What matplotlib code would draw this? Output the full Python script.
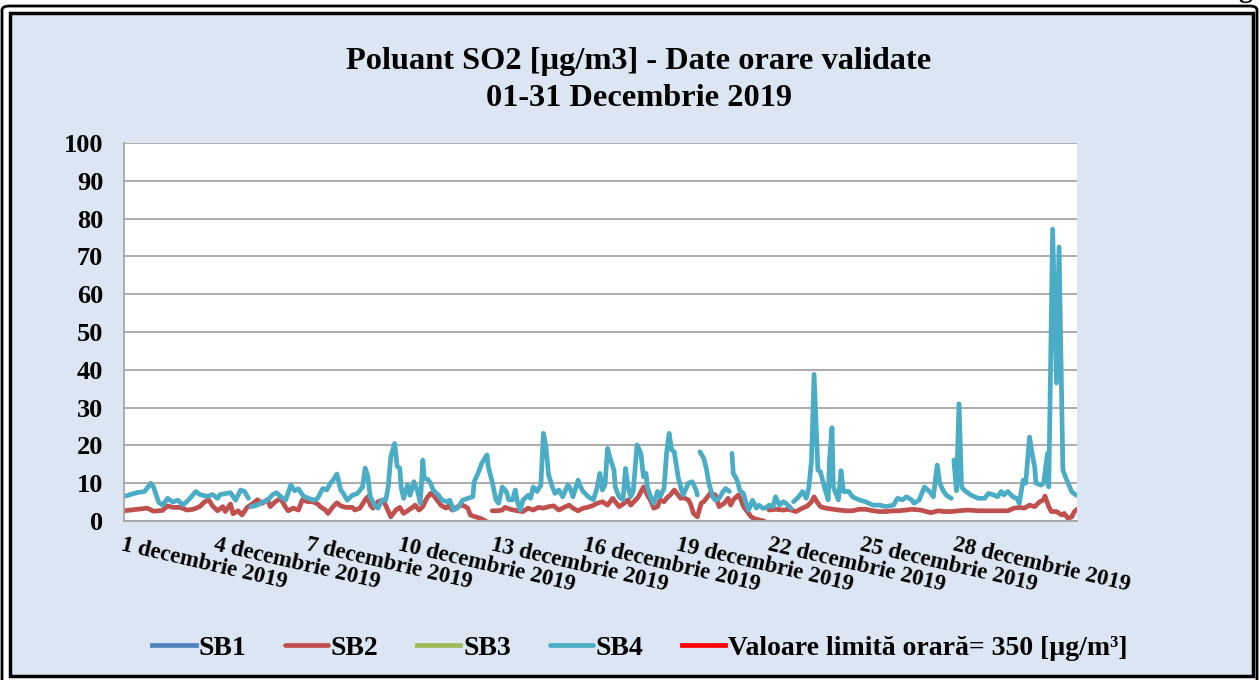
import numpy as np
import matplotlib
matplotlib.use('Agg')
import matplotlib.pyplot as plt
from matplotlib.patches import Rectangle, FancyBboxPatch

nan = np.nan

# ore de la 1 decembrie 00:00 (0 ... 743)
sb4_ore = [0, 5, 10, 16, 21, 23, 27, 30, 34, 38, 42, 46, 50, 56, 59, 65, 69, 73, 75, 83,
           87, 91, 94, 97, 98, 99, 104, 108, 112, 116, 119, 122, 126, 128, 130, 133, 136, 140, 144, 148,
           151, 155, 158, 161, 163, 166, 169, 171, 174, 178, 182, 186, 188, 190, 192, 196, 198, 201, 204, 206,
           208, 211, 213, 215, 216, 218, 221, 223, 226, 229, 231, 233, 234, 237, 239, 241, 245, 248, 252, 254,
           257, 260, 264, 268, 272, 273, 276, 279, 283, 284, 287, 290, 292, 295, 298, 300, 303, 305, 307, 309,
           311, 315, 317, 319, 322, 325, 327, 329, 331, 334, 336, 339, 342, 346, 348, 350, 354, 356, 358, 362,
           366, 369, 371, 373, 375, 377, 379, 382, 383, 386, 389, 391, 393, 395, 397, 400, 403, 405, 407, 408,
           411, 413, 416, 418, 421, 423, 425, 427, 429, 432, 434, 436, 440, 443, 446, 447, 448, 449, 452, 454,
           456, 459, 461, 464, 467, 469, 472, 473, 474, 475, 478, 480, 483, 485, 487, 490, 493, 495, 498, 500,
           503, 506, 508, 511, 514, 516, 520, 521, 522, 526, 529, 532, 534, 536, 538, 541, 543, 546, 549, 550,
           552, 553, 557, 559, 561, 565, 568, 573, 578, 584, 589, 594, 600, 603, 607, 610, 614, 616, 620, 624,
           628, 631, 634, 636, 639, 641, 643, 645, 646, 647, 649, 651, 653, 655, 660, 666, 671, 674, 678, 681,
           684, 686, 689, 693, 696, 698, 701, 703, 706, 708, 710, 711, 715, 717, 720, 721, 724, 727, 729, 732,
           735, 739, 742, 743]
sb4 = [6.5, 7, 7.5, 7.8, 10, 9, 5, 4.2, 6, 5, 5.5, 4.2, 5.5, 7.8, 7, 6.5, 7, 6, 7, 7.5,
       5.5, 8.2, 7.8, 6, nan, 3.8, 4.2, 5, 5.5, 7, 7.5, 6.5, 5.5, 7.5, 9.5, 8, 8.5, 6.5, 6, 5.5,
       6, 8.6, 8.2, 10, 10.8, 12.4, 8.2, 7.3, 5.5, 6.8, 7.3, 9, 14, 12, 6.4, 3.8, 3.4, 5.5, 5.5, 9,
       17, 20.5, 14.4, 14, 9, 6, 9.5, 6.8, 10.4, 7.8, 4.7, 16.1, 11.3, 11, 10, 8.2, 6.9, 5.5, 5.1, 5.5,
       2.9, 3.4, 5.5, 6, 6.4, 10.4, 12.6, 15.3, 17.5, 14.4, 10.4, 5.6, 4.7, 9, 7.8, 5.6, 5.6, 8.2, 4.7, 2.9,
       5.5, 6.8, 6, 9, 7.8, 9.5, 23.2, 19.6, 12.2, 9, 7.3, 8.2, 6.4, 9.5, 8.6, 6.4, 10.8, 9, 7.8, 6.4,
       5.6, 9, 12.6, 8.2, 9.5, 19.2, 16.6, 13.5, 9, 6.4, 5.6, 13.9, 9, 6.4, 7.8, 20.1, 17.9, 11.7, 12.6, 9,
       6, 4.7, 7.8, 6.4, 8.6, 17.9, 23.2, 18.8, 18.3, 11.7, 9, 6.9, 10, 10.4, 8.2, 6.9, nan, 18.3, 16.6, 13.9,
       10, 6.4, 5.5, 6, 7.8, 8.6, 7.8, nan, 17.9, 12.6, 10.8, 8.2, 7.3, 4.7, 2.9, 5.5, 3.4, 4.2, 3.4, 3.4,
       4.2, 3.8, 6.4, 4.2, 5.1, 4.7, 3.4, nan, 5.1, 6.4, 7.8, 6, 9, 16, 38.8, 13.5, 13, 9, 5.6, 16,
       24.7, 9, 5.6, 13.3, 7.8, 7.8, 6.4, 5.6, 5.1, 4.2, 4.2, 3.8, 4.2, 6, 5.6, 6.4, 5.6, 4.7, 5.6, 9,
       7.8, 6.4, 14.8, 10, 7.8, 6.9, 6.4, 6, nan, 16.1, 8, 31, 9, 8.2, 6.9, 6, 6, 7.3, 6.9, 6.4,
       7.8, 6.9, 7.8, 6.4, 6, 4.7, 10.8, 10, 22.2, 17.9, 14.4, 10, 9.5, 10, 17.9, 9, 77.2, 36.5, 72.5, 13.5,
       10.8, 7.7, 6.9, 6.8]

sb2_ore = [0, 18, 23, 30, 34, 38, 44, 49, 54, 59, 63, 66, 69, 73, 77, 79, 83, 85, 89, 92,
           96, 100, 104, 108, 112, 114, 118, 122, 126, 128, 132, 136, 139, 143, 147, 151, 153, 157, 159, 163,
           166, 169, 173, 178, 180, 184, 188, 190, 192, 194, 198, 202, 205, 208, 212, 215, 218, 222, 225, 227,
           230, 233, 236, 239, 241, 244, 247, 251, 253, 256, 260, 264, 268, 270, 274, 278, 282, 283, 287, 291,
           295, 297, 301, 307, 311, 315, 319, 323, 327, 331, 335, 339, 343, 347, 350, 354, 358, 361, 365, 369,
           373, 377, 381, 383, 386, 390, 393, 395, 399, 401, 405, 408, 411, 413, 416, 418, 421, 424, 426, 429,
           432, 434, 436, 440, 442, 444, 447, 450, 452, 455, 457, 461, 464, 468, 471, 473, 475, 479, 481, 483,
           487, 489, 491, 495, 499, 500, 503, 508, 514, 518, 524, 529, 533, 536, 538, 541, 543, 547, 553, 557,
           563, 568, 573, 578, 584, 589, 594, 600, 604, 610, 614, 621, 629, 635, 639, 645, 651, 658, 666, 674,
           681, 689, 694, 698, 702, 706, 710, 714, 717, 718, 721, 723, 727, 731, 733, 736, 739, 741, 743]
sb2 = [2.7, 3.4, 2.6, 2.8, 4, 3.6, 3.6, 2.9, 3.1, 3.8, 5.1, 5.6, 4, 2.7, 3.8, 2.5, 4.5, 1.9, 2.7, 1.6,
       3.6, 4.5, 5.6, 4.7, 5.7, 3.8, 5.1, 6, 3.6, 2.7, 3.4, 2.9, 5.6, 5.1, 5.1, 4.5, 3.8, 2.9, 2, 3.8,
       4.8, 4, 3.6, 3.6, 2.9, 3.4, 5.6, 6.4, 4.2, 3.4, 5.1, 5.6, 3.4, 1.1, 2.9, 3.6, 2, 2.9, 3.6, 4.2,
       2.9, 3.8, 6, 7.3, 6.9, 5.6, 4.2, 3.4, 4, 2.9, 3.8, 4.2, 3.4, 1.6, 1.1, 0.7, 0, nan, 2.7, 2.7,
       2.9, 3.6, 3.1, 2.7, 2.5, 3.4, 2.9, 3.6, 3.4, 3.8, 4, 2.9, 3.6, 4.2, 3.4, 2.7, 3.4, 3.6, 4, 4.7,
       5.1, 4.2, 6, 5.1, 3.8, 4.7, 5.6, 4.2, 5.6, 6.4, 9, 6.9, 5.1, 3.4, 3.8, 5.6, 5.1, 6.4, 6.9, 8.2,
       6.9, 6, 6.2, 5.6, 4.2, 2, 1.1, 4.7, 5.1, 6.4, 7.3, 6.9, 3.8, 4.7, 6, 4.2, 5.6, 6.9, 5.6, 3.8,
       2, 1.1, 0.7, 0.3, 0, nan, 2.9, 3.1, 2.9, 3.1, 2.5, 3.4, 4, 5.1, 6.4, 4.7, 3.8, 3.4, 3.1, 2.9,
       2.7, 2.7, 3.1, 3.1, 2.7, 2.5, 2.5, 2.7, 2.7, 2.9, 3.1, 2.9, 2.2, 2.7, 2.5, 2.5, 2.7, 2.9, 2.7, 2.7,
       2.7, 2.7, 3.4, 3.6, 3.4, 4.2, 3.8, 5.1, 5.6, 6.6, 3.8, 2.5, 2.5, 1.6, 2, 0.7, 1.1, 2.5, 3.1]

# SB1 si SB3 fara date in grafic
sb1_ore, sb1 = [], []
sb3_ore, sb3 = [], []

# valoarea limita orara
limita = 350
total_ore = 744

zile_ticks = [0, 72, 144, 216, 288, 360, 432, 504, 576, 648]
etichete = ['1 decembrie 2019', '4 decembrie 2019', '7 decembrie 2019', '10 decembrie 2019',
            '13 decembrie 2019', '16 decembrie 2019', '19 decembrie 2019', '22 decembrie 2019',
            '25 decembrie 2019', '28 decembrie 2019']

plt.rcParams['font.family'] = ['Liberation Serif', 'DejaVu Serif']
plt.rcParams['font.weight'] = 'bold'

fond = '#DCE6F2'
fig = plt.figure(figsize=(12.6, 6.8), dpi=100, facecolor='white')

# chenarul dublu
fig.patches.append(FancyBboxPatch((2 / 1260, -0.02), 1255 / 1260, 1 - 6 / 680 + 0.02,
                                  boxstyle='round,pad=0,rounding_size=0.006',
                                  transform=fig.transFigure, facecolor='white',
                                  edgecolor='black', linewidth=2, zorder=-20))
fig.patches.append(Rectangle((10 / 1260, 4 / 680), 1243 / 1260, 1 - 17 / 680,
                             transform=fig.transFigure, facecolor=fond,
                             edgecolor='black', linewidth=2.5, zorder=-10))
fig.text(1245 / 1260, 1.004, 'g', fontsize=20, va='baseline', ha='center')

ax = fig.add_axes([124 / 1260, 1 - 521 / 680, 953 / 1260, 378 / 680])
ax.set_facecolor('white')

lw = 3.4
ax.plot(sb1_ore, sb1, color='#4F81BD', lw=lw, label='SB1')
ax.plot(sb2_ore, sb2, color='#C0504D', lw=lw, label='SB2', solid_capstyle='round', solid_joinstyle='round')
ax.plot(sb3_ore, sb3, color='#9BBB59', lw=lw, label='SB3')
ax.plot(sb4_ore, sb4, color='#4BACC6', lw=lw, label='SB4', solid_capstyle='round', solid_joinstyle='round')
ax.plot([0, total_ore - 1], [limita, limita], color='#FF0000', lw=lw,
        label='Valoare limită orară= 350 [µg/m³]')

ax.set_ylim(0, 100)
ax.set_xlim(0, total_ore - 1)
ax.set_yticks(range(0, 101, 10))
ax.tick_params(axis='y', labelsize=19, length=0, pad=15)
ax.set_xticks(zile_ticks)
ax.set_xticklabels(etichete, rotation=-13, ha='left', va='top', rotation_mode='anchor', fontsize=16.5)
ax.tick_params(axis='x', length=0, pad=10)
ax.grid(True, axis='y', color='#A6A6A6', lw=1.3)
ax.set_axisbelow(True)
for s in ['top', 'right']:
    ax.spines[s].set_visible(False)
ax.spines['left'].set_color('#A6A6A6')
ax.spines['bottom'].set_color('#A6A6A6')
ax.spines['left'].set_linewidth(1.3)
ax.spines['bottom'].set_linewidth(1.3)

fig.text(0.507, 1 - 80 / 680, 'Poluant SO2 [µg/m3] - Date orare validate\n01-31 Decembrie 2019',
         ha='center', va='center', fontsize=23.3, fontweight='bold', linespacing=1.35)

fig.legend(loc='center', bbox_to_anchor=(0.508, 1 - 648 / 680), ncol=5, frameon=False,
           fontsize=20, handlelength=1.55, handletextpad=0.1, columnspacing=1.4)

fig.savefig('out.png', dpi=100, facecolor='white')
